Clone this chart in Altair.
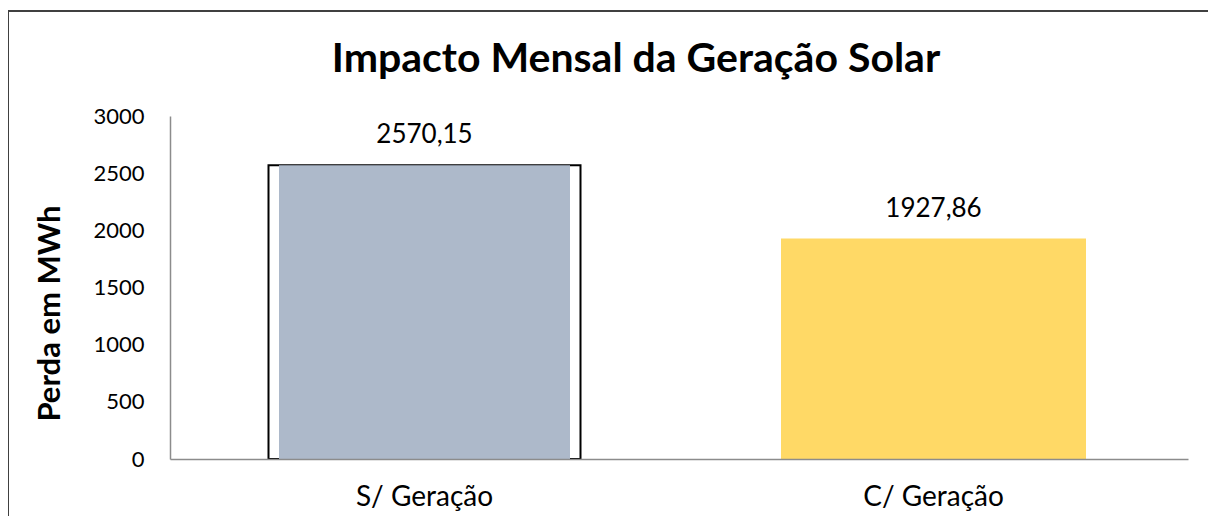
import altair as alt
import pandas as pd

categories = ["S/ Geração", "C/ Geração"]
values = [2570.15, 1927.86]
labels = ["2570,15", "1927,86"]
y_ticks = [0, 500, 1000, 1500, 2000, 2500, 3000]

df = pd.DataFrame({"cat": categories, "val": values, "lab": labels})

FONT = "Lato"

x = alt.X("cat:N", sort=categories,
          scale=alt.Scale(paddingInner=0.39, paddingOuter=0.195),
          axis=alt.Axis(title=None, labelAngle=0, labelFontSize=28, labelColor="#000000",
                        labelFont=FONT, labelPadding=24, ticks=False, domainColor="#8C8C8C",
                        domainWidth=1.5, zindex=1))
y = alt.Y("val:Q", scale=alt.Scale(domain=[0, 3000]),
          axis=alt.Axis(title="Perda em MWh", values=y_ticks, format="d",
                        grid=False, ticks=False, labelFontSize=22, labelColor="#000000",
                        labelFont=FONT, labelPadding=26, domainColor="#8C8C8C", domainWidth=1.5,
                        titleFont=FONT, titleFontSize=31, titleFontWeight="bold",
                        titleColor="#000000", titlePadding=26, titleY=197))

base = alt.Chart(df)

outline = base.transform_filter(alt.datum.cat == categories[0]).mark_bar(
    size=312, fill="white", stroke="black", strokeWidth=2
).encode(x=x, y=y)

gray = base.transform_filter(alt.datum.cat == categories[0]).mark_bar(
    size=291, color="#ADB9CA"
).encode(x=x, y=y)

yellow = base.transform_filter(alt.datum.cat == categories[1]).mark_bar(
    size=305, color="#FFD966"
).encode(x=x, y=y)

text = base.mark_text(dy=-30, fontSize=26, font=FONT, color="#000000").encode(
    x=x, y=y, text="lab:N")

frame_top = base.mark_rule(color="#404040", strokeWidth=2).encode(
    x=alt.value(-162), x2=alt.value(1040), y=alt.value(-105))
frame_left = base.mark_rule(color="#404040", strokeWidth=2).encode(
    x=alt.value(-162), y=alt.value(-105), y2=alt.value(410))

chart = alt.layer(frame_top, frame_left, outline, gray, yellow, text).properties(
    width=1018, height=343,
    background="white",
    title=alt.TitleParams("Impacto Mensal da Geração Solar", font=FONT, fontSize=41,
                          fontWeight="bold", color="#000000", anchor="middle", dx=-43,
                          baseline="alphabetic", offset=-103),
    padding={"left": 162, "top": 108, "right": 20, "bottom": 57},
    autosize=alt.AutoSizeParams(type="none"),
).configure_view(stroke="transparent", strokeWidth=0)

chart.save("out.html", embed_options={"renderer": "svg", "actions": False})
